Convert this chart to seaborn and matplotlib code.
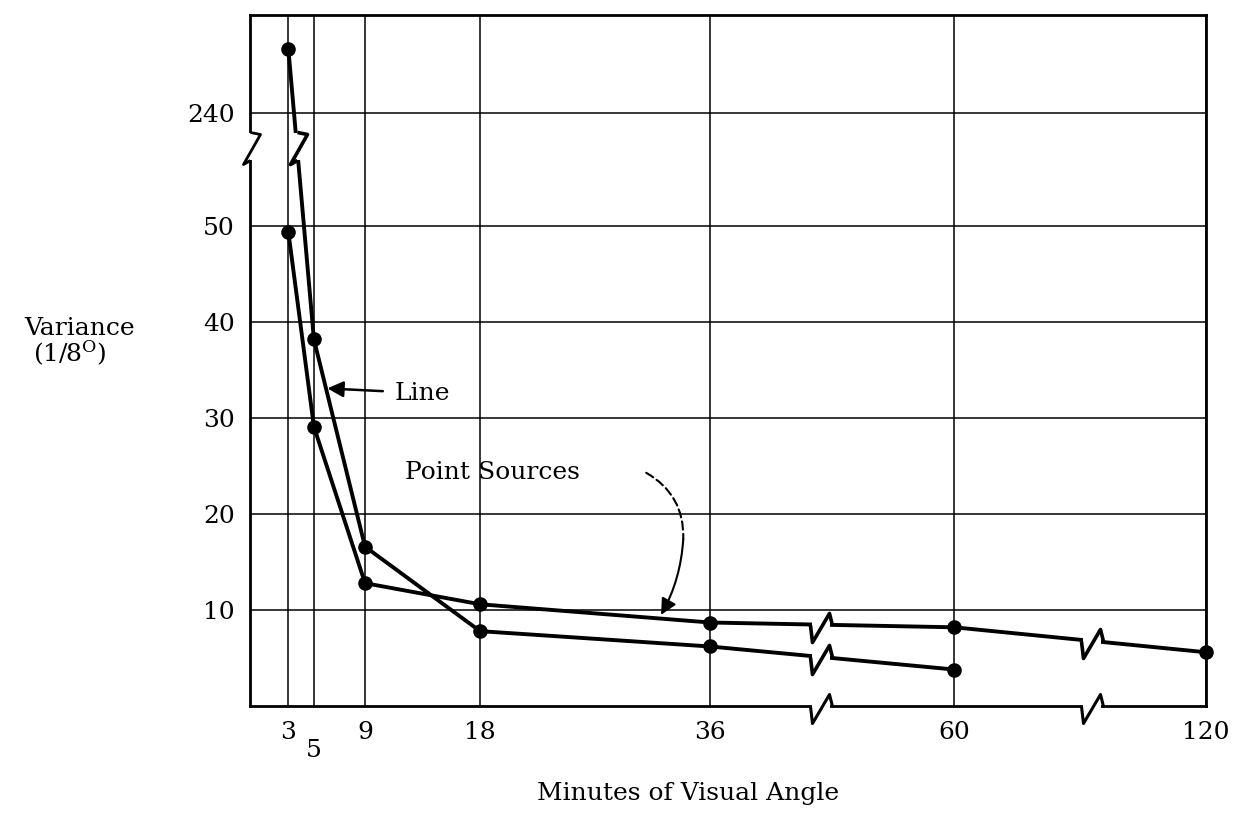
import numpy as np
import matplotlib
matplotlib.use("Agg")
import matplotlib.pyplot as plt
from matplotlib.path import Path
from matplotlib.ticker import FixedLocator, FixedFormatter
import seaborn as sns

# values
minutes_line = [3, 5, 9, 18, 36, 60]
variance_line = [246.6, 38.2, 16.6, 7.8, 6.2, 3.8]
minutes_points = [3, 5, 9, 18, 36, 60, 120]
variance_points = [49.4, 29.1, 12.8, 10.6, 8.7, 8.2, 5.6]

x_major = [3, 9, 18, 36, 60, 120]
x_minor = [5]
y_ticks = [10, 20, 30, 40, 50, 240]

# broken axes: data value -> position along the axis
X_DATA = [0, 36, 60, 120]
X_POS = [0, 36, 55.1, 74.8]
Y_DATA = [0, 58.1, 236.3, 260]
Y_POS = [0, 58.1, 58.11, 82.0]
X_BREAKS = [44.7, 65.9]
Y_BREAK = 58.105


def fx(v):
    return np.interp(v, X_DATA, X_POS)


def ix(p):
    return np.interp(p, X_POS, X_DATA)


def fy(v):
    return np.interp(v, Y_DATA, Y_POS)


def iy(p):
    return np.interp(p, Y_POS, Y_DATA)


def point_on(xs, ys, xpos=None, ypos=None):
    px = fx(np.asarray(xs, float))
    py = fy(np.asarray(ys, float))
    if xpos is not None:
        return float(ix(xpos)), float(iy(np.interp(xpos, px, py)))
    return float(ix(np.interp(ypos, py[::-1], px[::-1]))), float(iy(ypos))


PX_PER_PT = 100 / 72.0
ZIG_H = [(-11, 0), (-9, -17), (8, 12), (11, 0)]
ERASE_H = [(-9, -5), (9, -5), (9, 5), (-9, 5), (-9, -5)]
ZIG_V = [(0, 16), (10, 14), (-7, -16), (0, -12)]
ERASE_V = [(-5, -12), (5, -12), (5, 15), (-5, 15), (-5, -12)]


def marker(verts):
    size = 2 * np.max(np.abs(verts)) / PX_PER_PT
    return Path(verts), size


def zigzag(ax, x, y, zig, erase, lw):
    ep, es = marker(erase)
    ax.plot([x], [y], marker=ep, markersize=es, color="white",
            markeredgewidth=0, linestyle="none", clip_on=False, zorder=5)
    zp, zs = marker(zig)
    ax.plot([x], [y], marker=zp, markersize=zs, markerfacecolor="none",
            markeredgecolor="black", markeredgewidth=lw, linestyle="none",
            clip_on=False, zorder=6)


sns.set_theme(style="white")
plt.rcParams["font.family"] = ["DejaVu Serif"]
plt.rcParams["mathtext.fontset"] = "dejavuserif"
plt.rcParams["text.color"] = "black"

fig = plt.figure(figsize=(12.33, 8.15), dpi=100)
ax = fig.add_axes([250 / 1233, 1 - 706 / 815, 956 / 1233, 691 / 815])
ax.set_xscale("function", functions=(fx, ix))
ax.set_yscale("function", functions=(fy, iy))

for xs, ys in [(minutes_line, variance_line), (minutes_points, variance_points)]:
    sns.lineplot(x=xs, y=ys, ax=ax, color="black", linewidth=2.8, marker="o",
                 markersize=10.5, markeredgewidth=0, sort=False, estimator=None,
                 clip_on=False, zorder=3)

ax.set_xlim(0, 120)
ax.set_ylim(0, float(iy(72.0)))

ax.xaxis.set_major_locator(FixedLocator(x_major))
ax.xaxis.set_major_formatter(FixedFormatter([str(v) for v in x_major]))
ax.xaxis.set_minor_locator(FixedLocator(x_minor))
ax.xaxis.set_minor_formatter(FixedFormatter([str(v) for v in x_minor]))
ax.yaxis.set_major_locator(FixedLocator(y_ticks))
ax.yaxis.set_major_formatter(FixedFormatter([str(v) for v in y_ticks]))
ax.yaxis.set_minor_locator(FixedLocator([]))

ax.tick_params(axis="x", which="major", length=0, pad=11, labelsize=18, colors="black")
ax.tick_params(axis="x", which="minor", length=16.5, width=1.2, direction="out",
               pad=7, labelsize=18, colors="black")
ax.tick_params(axis="y", which="major", length=0, pad=11, labelsize=18, colors="black")
ax.grid(True, axis="x", which="both", color="black", linewidth=1.1)
ax.grid(True, axis="y", which="major", color="black", linewidth=1.1)
for s in ax.spines.values():
    s.set_color("black")
    s.set_linewidth(2.0)
ax.set_xlabel("")
ax.set_ylabel("")

# break marks
zigzag(ax, 0, float(iy(Y_BREAK)), ZIG_V, ERASE_V, 2.0)
bx, by = point_on(minutes_line[:2], variance_line[:2], ypos=Y_BREAK)
zigzag(ax, bx, by, ZIG_V, ERASE_V, 2.6)
for xb in X_BREAKS:
    zigzag(ax, float(ix(xb)), 0, ZIG_H, ERASE_H, 2.2)
    zigzag(ax, *point_on(minutes_points, variance_points, xpos=xb), ZIG_H, ERASE_H, 2.6)
zigzag(ax, *point_on(minutes_line, variance_line, xpos=X_BREAKS[0]), ZIG_H, ERASE_H, 2.6)

# labels on the curves
tip = point_on(minutes_line, variance_line, ypos=33.1)
ax.annotate("Line", xy=tip, xytext=(11.3, 32.6), fontsize=18, ha="left", va="center",
            arrowprops=dict(arrowstyle="-|>", color="black", lw=1.8,
                            mutation_scale=24, shrinkA=6, shrinkB=1))
ax.text(12.1, 24.3, "Point Sources", fontsize=18, ha="left", va="center")
mid = (33.9, 17.4)
ax.annotate("", xy=mid, xytext=(31.0, 24.3),
            arrowprops=dict(arrowstyle="-", color="black", lw=1.5, linestyle=(0, (4, 2)),
                            connectionstyle="arc3,rad=-0.3", shrinkA=0, shrinkB=0))
ax.annotate("", xy=point_on(minutes_points, variance_points, xpos=32.0), xytext=mid,
            arrowprops=dict(arrowstyle="-|>", color="black", lw=1.5, mutation_scale=24,
                            connectionstyle="arc3,rad=-0.12", shrinkA=0, shrinkB=3))

fig.text(80 / 1233, 1 - 335 / 815, "Variance", fontsize=18, ha="center", va="baseline")
fig.text(70 / 1233, 1 - 362 / 815, r"(1/8$^{\mathrm{O}}$)", fontsize=18, ha="center",
         va="baseline")
fig.text(688 / 1233, 1 - 800 / 815, "Minutes of Visual Angle", fontsize=18,
         ha="center", va="baseline")

fig.savefig("out.png", dpi=100, facecolor="white")
